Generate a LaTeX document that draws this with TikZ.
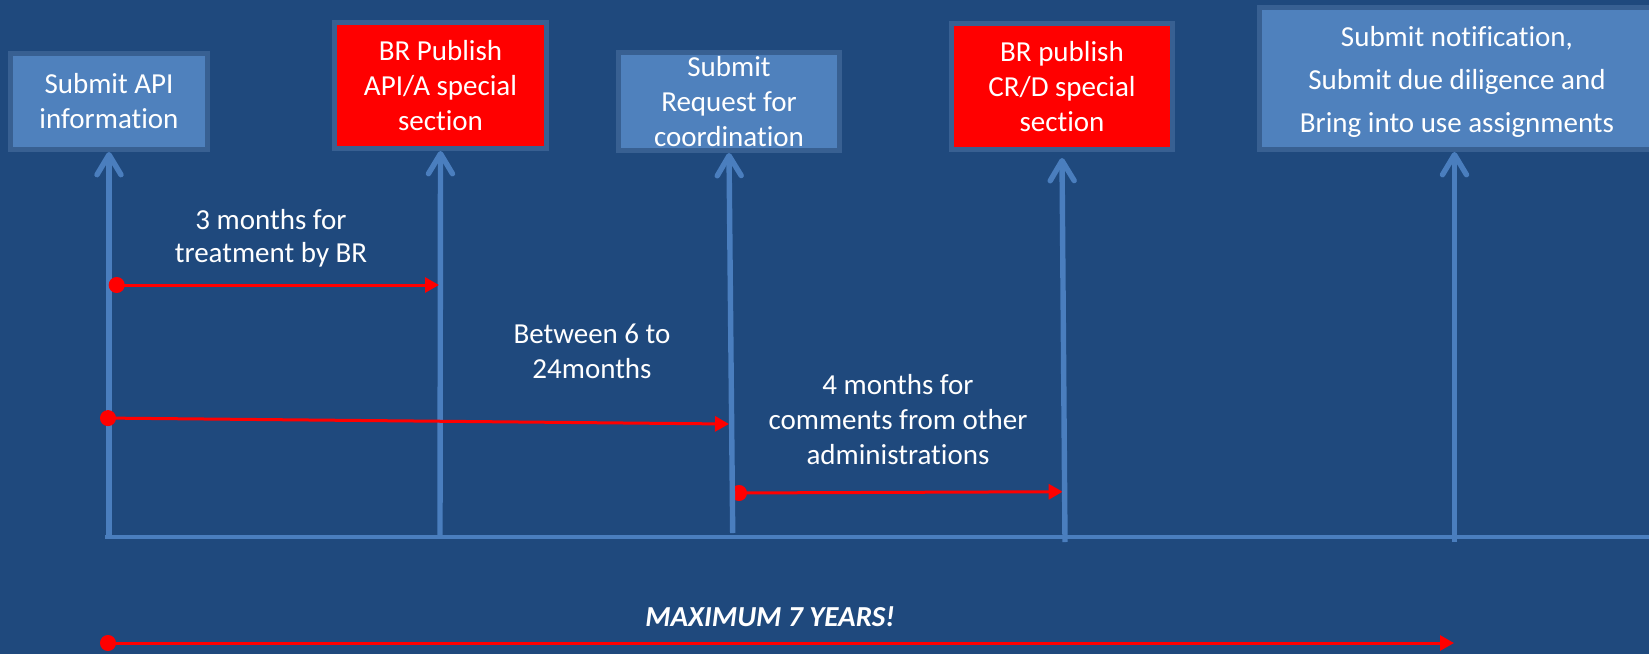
\documentclass[tikz,border=0pt]{standalone}
\usepackage{fontspec}
\setmainfont{Carlito}[Ligatures=NoCommon]
\usetikzlibrary{arrows.meta}
\definecolor{bg}{RGB}{31,73,125}
\definecolor{boxfill}{RGB}{79,129,189}
\definecolor{boxline}{RGB}{56,96,146}
\definecolor{vline}{RGB}{74,126,190}
\definecolor{myred}{RGB}{255,0,0}
\begin{document}
\begin{tikzpicture}[x=0.5pt,y=-0.5pt,
  txt/.style={text=white,font=\fontsize{14.5}{17.5}\selectfont,align=center,inner sep=0pt},
  bluebox/.style={txt,draw=boxline,line width=2.5pt,fill=boxfill},
  redbox/.style={txt,draw=boxline,line width=2.5pt,fill=myred},
  vup/.style={draw=vline,line width=2.7pt,-{Straight Barb[length=10pt,width=12pt,round]}},
  rarrow/.style={draw=myred,line width=1.5pt,{Circle[length=8pt,width=8pt]}-{Triangle[length=7pt,width=7.5pt]}},
  baseline/.style={draw=vline,line width=1.6pt}]
\fill[bg] (0,0) rectangle (1649,654);
\useasboundingbox (0,0) rectangle (1649,654);
\clip (0,0) rectangle (1649,654);

% boxes
\node[bluebox,minimum width=98.5pt,minimum height=48pt] (box1) at (109,101.5) {Submit API\\information};
\node[redbox,minimum width=106pt,minimum height=63pt] (box2) at (440.5,85.5) {BR Publish\\API/A special\\section};
\node[bluebox,minimum width=110.5pt,minimum height=49pt] (box3) at (729,101.5) {Submit\\Request for\\coordination};
\node[redbox,minimum width=110.5pt,minimum height=63pt] (box4) at (1062,86.5) {BR publish\\CR/D special\\section};
\node[bluebox,minimum width=197.5pt,minimum height=71pt,font=\fontsize{14.5}{21.3}\selectfont] (box5) at (1457,78.5) {\rule{0pt}{13.5pt}Submit notification,\\Submit due diligence and\\Bring into use assignments};

% coordinates
\coordinate (base0) at (105,537);
\coordinate (base1) at (1660,537);
\coordinate (v1) at (109,537);
\coordinate (v2) at (440,537);
\coordinate (v3) at (732.7,533);
\coordinate (v4) at (1065,542);
\coordinate (v5) at (1454.5,542);
\coordinate (r1s) at (108.7,285);
\coordinate (r1e) at (439,285);
\coordinate (r2s) at (100,418);
\coordinate (r2e) at (729,424);
\coordinate (r3s) at (731,493);
\coordinate (r3e) at (1062.7,491.7);
\coordinate (r4s) at (100,643);
\coordinate (r4e) at (1454,643);

% red arrow drawn beneath the third time line
\draw[rarrow] (r3s) -- (r3e);

% baseline and vertical arrows
\draw[baseline] (base0) -- (base1);
\draw[vup] (v1) -- (box1.south);
\draw[vup] (v2) -- (box2.south);
\draw[vup] (v3) -- (box3.south);
\draw[vup] (v4) -- ([yshift=-3pt]box4.south);
\draw[vup] (v5) -- (box5.south -| v5);

% red duration arrows
\draw[rarrow] (r1s) -- (r1e);
\draw[rarrow] (r2s) -- (r2e);
\draw[rarrow] (r4s) -- (r4e);

% labels
\node[txt,font=\fontsize{14.5}{16.5}\selectfont] (l1) at (271,238.5) {3 months for\\treatment by BR};
\node[txt] (l2) at (592,351) {Between 6 to\\24months};
\node[txt] (l3) at (898,420) {4 months for\\comments from other\\administrations};
\node[txt,font=\fontsize{14.5}{17.5}\selectfont\bfseries\itshape] (l4) at (770,617) {MAXIMUM 7 YEARS!};
\end{tikzpicture}
\end{document}
